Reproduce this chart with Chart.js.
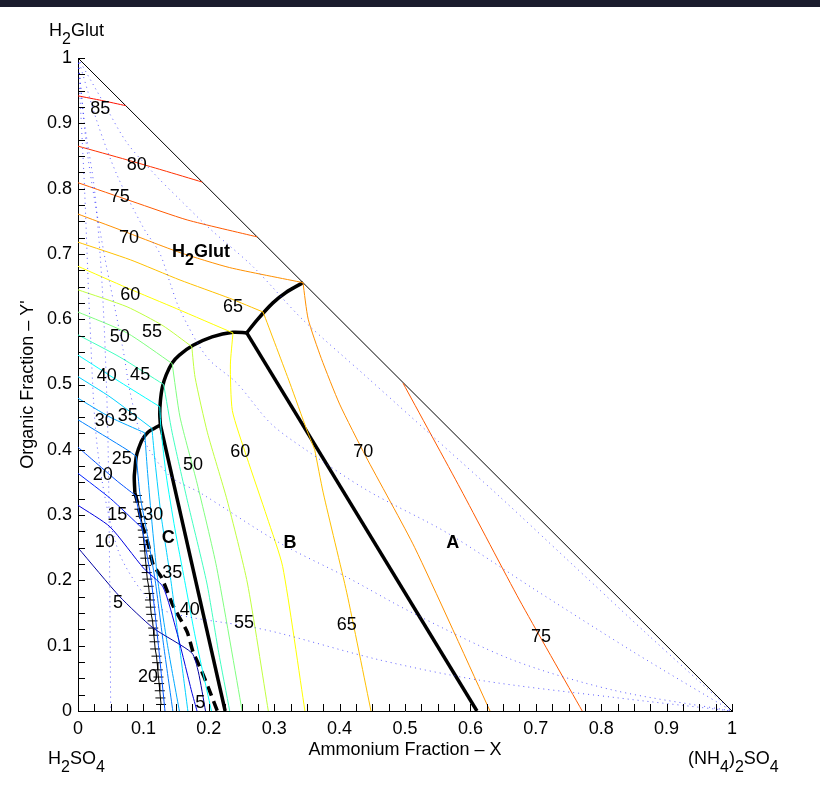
<!DOCTYPE html>
<html>
<head>
<meta charset="utf-8">
<title>H2Glut - (NH4)2SO4 - H2SO4</title>
<script src="https://cdn.jsdelivr.net/npm/chart.js@4"></script>
<style>
  html, body { margin: 0; padding: 0; background: #fff; }
  #wrap { position: relative; width: 820px; height: 800px; }
  #topbar { position: absolute; left: 0; top: 0; width: 820px; height: 7px; background: #1b1c2e; }
</style>
</head>
<body>
<div id="wrap">
  <canvas id="phaseChart" width="820" height="800"></canvas>
  <div id="topbar"></div>
</div>
<script>
/* ---- axes ---- */
const tickLabels = ["0", "0.1", "0.2", "0.3", "0.4", "0.5", "0.6", "0.7", "0.8", "0.9", "1"];

/* ---- contour levels and colours ---- */
const levels = [5, 10, 15, 20, 25, 30, 35, 40, 45, 50, 55, 60, 65, 70, 75, 80, 85];
const levelColors = ["#0000a0", "#0000e0", "#0020ff", "#0050ff", "#0080ff", "#00a8ff", "#00d0ff", "#00ffff",
  "#40ffc0", "#80ff80", "#c0ff40", "#ffff00", "#ffc000", "#ff9000", "#ff5a00", "#ff3000", "#ff1000"];

// H2Glut field (upper left)
const glut85 = [[0, 0.942], [0.036, 0.935], [0.073, 0.927]];
const glut80 = [[0, 0.865], [0.075, 0.844], [0.13, 0.828], [0.19, 0.81]];
const glut75 = [[0, 0.809], [0.084, 0.780], [0.167, 0.752], [0.274, 0.726]];
const glut70 = [[0, 0.761], [0.064, 0.737], [0.156, 0.702], [0.232, 0.679], [0.344, 0.656]];
const glut65 = [[0, 0.718], [0.08, 0.691], [0.156, 0.660], [0.232, 0.632], [0.283, 0.611]];
const glut60 = [[0, 0.681], [0.075, 0.648], [0.151, 0.616], [0.237, 0.579]];
const glut55 = [[0, 0.645], [0.075, 0.619], [0.130, 0.590], [0.174, 0.558]];
const glut50 = [[0, 0.611], [0.075, 0.579], [0.144, 0.532]];
const glut45 = [[0, 0.576], [0.064, 0.542], [0.131, 0.500]];
const glut40 = [[0, 0.545], [0.064, 0.504], [0.125, 0.466]];
const glut35 = [[0, 0.512], [0.049, 0.481], [0.113, 0.433]];
const glut30 = [[0, 0.479], [0.049, 0.450], [0.102, 0.426]];
const glut25 = [[0, 0.446], [0.075, 0.400], [0.089, 0.390]];
const glut20 = [[0, 0.404], [0.023, 0.384], [0.060, 0.352], [0.088, 0.330]];
const glut15 = [[0, 0.364], [0.05, 0.325], [0.098, 0.280]];
const glut10 = [[0, 0.315], [0.049, 0.282], [0.1, 0.219], [0.13, 0.19], [0.151, 0.121], [0.174, 0.029], [0.182, 0]];
const glut5 = [[0, 0.25], [0.064, 0.175], [0.115, 0.127], [0.174, 0.089], [0.184, 0.06], [0.195, 0]];

// field C (narrow strip)
const fieldC20 = [[0.088, 0.330], [0.100, 0.270], [0.112, 0.200], [0.123, 0.100], [0.133, 0]];
const fieldC25 = [[0.089, 0.390], [0.095, 0.33], [0.106, 0.27], [0.118, 0.2], [0.131, 0.1], [0.145, 0]];
const fieldC30 = [[0.102, 0.426], [0.106, 0.37], [0.112, 0.3], [0.122, 0.2], [0.137, 0.1], [0.155, 0]];
const fieldC35 = [[0.113, 0.433], [0.118, 0.38], [0.127, 0.3], [0.142, 0.2], [0.155, 0.1], [0.168, 0]];
const fieldC40 = [[0.125, 0.466], [0.127, 0.43], [0.135, 0.36], [0.148, 0.28], [0.163, 0.2], [0.18, 0.11], [0.204, 0]];

// field B
const fieldB45 = [[0.131, 0.500], [0.144, 0.426], [0.167, 0.323], [0.197, 0.196], [0.215, 0.09], [0.232, 0]];
const fieldB50 = [[0.144, 0.532], [0.156, 0.450], [0.182, 0.349], [0.212, 0.220], [0.251, 0]];
const fieldB55 = [[0.174, 0.558], [0.179, 0.511], [0.198, 0.426], [0.228, 0.323], [0.259, 0.196], [0.291, 0]];
const fieldB60 = [[0.237, 0.579], [0.233, 0.53], [0.236, 0.46], [0.258, 0.389], [0.289, 0.297], [0.313, 0.221], [0.347, 0]];
const fieldB65 = [[0.362, 0.400], [0.375, 0.334], [0.411, 0.181], [0.448, 0]];

// field A
const fieldA65 = [[0.283, 0.611], [0.324, 0.502], [0.350, 0.430], [0.362, 0.400]];
const fieldA70 = [[0.344, 0.656], [0.352, 0.600], [0.372, 0.540], [0.400, 0.470], [0.440, 0.390], [0.515, 0.25], [0.630, 0]];
const fieldA75 = [[0.497, 0.502], [0.585, 0.34], [0.675, 0.17], [0.771, 0]];

/* ---- phase boundaries ---- */
const edgeP1J1 = [[0.344, 0.656], [0.318, 0.641], [0.298, 0.625], [0.274, 0.599], [0.258, 0.579]];
const edgeJ1J2 = [[0.258, 0.579], [0.237, 0.580], [0.205, 0.573], [0.176, 0.560], [0.155, 0.545], [0.144, 0.533],
  [0.135, 0.515], [0.129, 0.496], [0.126, 0.475], [0.125, 0.455], [0.126, 0.438]];
const edgeJ2 = [[0.126, 0.438], [0.117, 0.433], [0.107, 0.427], [0.098, 0.415], [0.092, 0.400], [0.089, 0.389],
  [0.087, 0.37], [0.086, 0.358], [0.087, 0.334]];
const lineAB = [[0.258, 0.579], [0.610, 0]];
const lineBC = [[0.126, 0.438], [0.225, 0]];
const metastable = [[0.087, 0.334], [0.090, 0.323], [0.099, 0.282], [0.107, 0.257], [0.115, 0.224], [0.128, 0.204],
  [0.145, 0.162], [0.167, 0.121], [0.176, 0.090], [0.187, 0.066], [0.202, 0.029], [0.213, 0]];
const iceLine = [[0.090, 0.330], [0.092, 0.320], [0.094, 0.309], [0.096, 0.298], [0.098, 0.287], [0.099, 0.277],
  [0.100, 0.266], [0.101, 0.255], [0.102, 0.245], [0.103, 0.234], [0.104, 0.223], [0.105, 0.212], [0.106, 0.202],
  [0.108, 0.191], [0.109, 0.180], [0.110, 0.170], [0.111, 0.159], [0.112, 0.148], [0.114, 0.138], [0.115, 0.127],
  [0.116, 0.116], [0.117, 0.106], [0.118, 0.095], [0.120, 0.084], [0.121, 0.074], [0.122, 0.063], [0.123, 0.052],
  [0.124, 0.042], [0.125, 0.031], [0.126, 0.020], [0.127, 0.010]];
const hypotenuse = [[0, 1], [1, 0]];

/* ---- dotted guide curves ---- */
const guide1 = [[0, 1], [0.04, 0.93], [0.075, 0.87], [0.121, 0.818], [0.156, 0.783], [0.2, 0.74], [0.268, 0.68],
  [0.344, 0.599], [0.442, 0.511], [0.543, 0.420], [0.645, 0.328], [0.75, 0.23], [0.87, 0.118], [1, 0]];
const guide2 = [[0, 1], [0.03, 0.9], [0.06, 0.82], [0.1, 0.74], [0.125, 0.701], [0.141, 0.655], [0.156, 0.614],
  [0.197, 0.542], [0.243, 0.502], [0.294, 0.441], [0.344, 0.403], [0.442, 0.338], [0.564, 0.273], [0.7, 0.185],
  [0.85, 0.09], [1, 0]];
const guide3 = [[0, 1], [0.015, 0.85], [0.04, 0.7], [0.069, 0.553], [0.08, 0.487], [0.098, 0.42], [0.14, 0.36],
  [0.187, 0.334], [0.309, 0.257], [0.411, 0.205], [0.512, 0.150], [0.665, 0.078], [0.818, 0.032], [1, 0]];
const guide4 = [[0, 1], [0.01, 0.8], [0.018, 0.6], [0.03, 0.4], [0.06, 0.25], [0.1, 0.18], [0.136, 0.152],
  [0.263, 0.129], [0.309, 0.119], [0.462, 0.078], [0.615, 0.047], [0.818, 0.021], [1, 0]];
const guide5 = [[0, 1], [0.01, 0.9], [0.025, 0.8], [0.037, 0.65], [0.045, 0.45], [0.048, 0.25], [0.05, 0]];

/* ---- contour labels: level, x, y ---- */
const contourLabels = [
  [85, 0.034, 0.922], [80, 0.090, 0.836], [75, 0.064, 0.787], [70, 0.078, 0.724], [65, 0.237, 0.619],
  [60, 0.080, 0.637], [55, 0.113, 0.580], [50, 0.064, 0.573], [45, 0.095, 0.515], [40, 0.044, 0.513],
  [35, 0.076, 0.452], [30, 0.041, 0.444], [25, 0.067, 0.386], [20, 0.038, 0.361], [15, 0.060, 0.300],
  [10, 0.041, 0.259], [5, 0.061, 0.165],
  [30, 0.115, 0.300], [35, 0.144, 0.211], [40, 0.171, 0.155], [20, 0.107, 0.052], [5, 0.187, 0.012],
  [50, 0.176, 0.377], [60, 0.248, 0.397], [55, 0.254, 0.135], [65, 0.411, 0.132],
  [70, 0.436, 0.397], [75, 0.708, 0.113]
];
const fieldLabels = [["A", 0.573, 0.257], ["B", 0.324, 0.257], ["C", 0.138, 0.265]];

const contours = [
  [85, glut85], [80, glut80], [75, glut75], [70, glut70], [65, glut65], [60, glut60], [55, glut55],
  [50, glut50], [45, glut45], [40, glut40], [35, glut35], [30, glut30], [25, glut25], [20, glut20],
  [15, glut15], [10, glut10], [5, glut5],
  [20, fieldC20], [25, fieldC25], [30, fieldC30], [35, fieldC35], [40, fieldC40],
  [45, fieldB45], [50, fieldB50], [55, fieldB55], [60, fieldB60], [65, fieldB65],
  [65, fieldA65], [70, fieldA70], [75, fieldA75]
];

const FONT = "'Liberation Sans', Arial, Helvetica, sans-serif";
Chart.defaults.font.family = FONT;
Chart.defaults.font.size = 18;
Chart.defaults.color = "#000";

function curve(points, color, width, extra) {
  return Object.assign({
    data: points.map(p => ({ x: p[0], y: p[1] })),
    showLine: true,
    borderColor: color,
    borderWidth: width,
    pointRadius: 0,
    tension: 0.2,
    fill: false
  }, extra || {});
}

const datasets = [];
const dotted = { borderDash: [1, 4], tension: 0.3 };
[guide1, guide2, guide3, guide4, guide5].forEach(g => datasets.push(curve(g, "rgba(40,40,255,0.75)", 1, dotted)));
contours.forEach(([lev, pts]) => datasets.push(curve(pts, levelColors[levels.indexOf(lev)], 1)));
datasets.push(curve(hypotenuse, "#000", 1, { tension: 0 }));
datasets.push(curve(iceLine, "#000", 1, {
  tension: 0, pointRadius: 5, pointStyle: "line", pointBorderColor: "#000", pointBorderWidth: 1
}));
datasets.push(curve(edgeP1J1, "#000", 3.5, { tension: 0.3 }));
datasets.push(curve(edgeJ1J2, "#000", 3.5, { tension: 0.3 }));
datasets.push(curve(edgeJ2, "#000", 3.5, { tension: 0.3 }));
datasets.push(curve(lineAB, "#000", 3.5, { tension: 0 }));
datasets.push(curve(lineBC, "#000", 3.5, { tension: 0 }));
datasets.push(curve(metastable, "#000", 3.5, { borderDash: [10, 6], tension: 0.2 }));

// text with subscripts: parts = [[text, isSub], ...]
function richText(ctx, parts, x, y, size, bold) {
  let cx = x;
  parts.forEach(([t, sub]) => {
    const fs = sub ? size - 2 : size;
    ctx.font = (bold ? "bold " : "") + fs + "px " + FONT;
    ctx.fillText(t, cx, sub ? y + 8 : y);
    cx += ctx.measureText(t).width;
  });
}

const annotations = {
  id: "annotations",
  afterDatasetsDraw(chart) {
    const ctx = chart.ctx;
    const xs = chart.scales.x, ys = chart.scales.y;
    const area = chart.chartArea;
    ctx.save();

    // inward tick marks
    ctx.strokeStyle = "#000";
    ctx.lineWidth = 1;
    ctx.beginPath();
    for (let i = 0; i <= 40; i++) {
      const v = i / 40;
      const py = Math.round(ys.getPixelForValue(v)) + 0.5;
      ctx.moveTo(area.left, py);
      ctx.lineTo(area.left + 7, py);
      const px = Math.round(xs.getPixelForValue(v)) + 0.5;
      ctx.moveTo(px, area.bottom);
      ctx.lineTo(px, area.bottom - 7);
    }
    ctx.stroke();

    // contour labels
    ctx.fillStyle = "#000";
    ctx.textAlign = "center";
    ctx.textBaseline = "middle";
    ctx.font = "18px " + FONT;
    contourLabels.forEach(([lev, x, y]) => {
      ctx.fillText(String(lev), xs.getPixelForValue(x), ys.getPixelForValue(y));
    });

    // field labels
    ctx.font = "bold 18px " + FONT;
    fieldLabels.forEach(([t, x, y]) => {
      ctx.fillText(t, xs.getPixelForValue(x), ys.getPixelForValue(y));
    });

    ctx.textAlign = "left";
    ctx.textBaseline = "alphabetic";
    richText(ctx, [["H"], ["2", true], ["Glut"]], 172, 257, 18, true);

    // corner compounds
    richText(ctx, [["H"], ["2", true], ["Glut"]], 49, 36, 18, false);
    richText(ctx, [["H"], ["2", true], ["SO"], ["4", true]], 48, 764, 18, false);
    richText(ctx, [["(NH"], ["4", true], [")"], ["2", true], ["SO"], ["4", true]], 688, 764, 18, false);

    // axis titles
    ctx.font = "18px " + FONT;
    ctx.textAlign = "center";
    ctx.textBaseline = "middle";
    ctx.fillText("Ammonium Fraction \u2013 X", (area.left + area.right) / 2, 750);
    ctx.translate(28, (area.top + area.bottom) / 2);
    ctx.rotate(-Math.PI / 2);
    ctx.fillText("Organic Fraction \u2013 Y'", 0, 0);
    ctx.restore();
  }
};

new Chart(document.getElementById("phaseChart"), {
  type: "scatter",
  data: { datasets },
  options: {
    responsive: false,
    animation: false,
    devicePixelRatio: 1,
    layout: { padding: { top: 58, right: 88, left: 0, bottom: 0 } },
    plugins: { legend: { display: false }, tooltip: { enabled: false } },
    scales: {
      x: {
        type: "linear", min: 0, max: 1,
        grid: { display: false, drawTicks: false },
        border: { display: true, color: "#000", width: 1 },
        ticks: { stepSize: 0.1, padding: 7, autoSkip: false, maxRotation: 0, callback: (v, i) => tickLabels[i] },
        afterFit: s => { s.height = 89; }
      },
      y: {
        type: "linear", min: 0, max: 1,
        grid: { display: false, drawTicks: false },
        border: { display: true, color: "#000", width: 1 },
        ticks: { stepSize: 0.1, padding: 6, autoSkip: false, callback: (v, i) => tickLabels[i] },
        afterFit: s => { s.width = 78; }
      }
    }
  },
  plugins: [annotations]
});
</script>
</body>
</html>
